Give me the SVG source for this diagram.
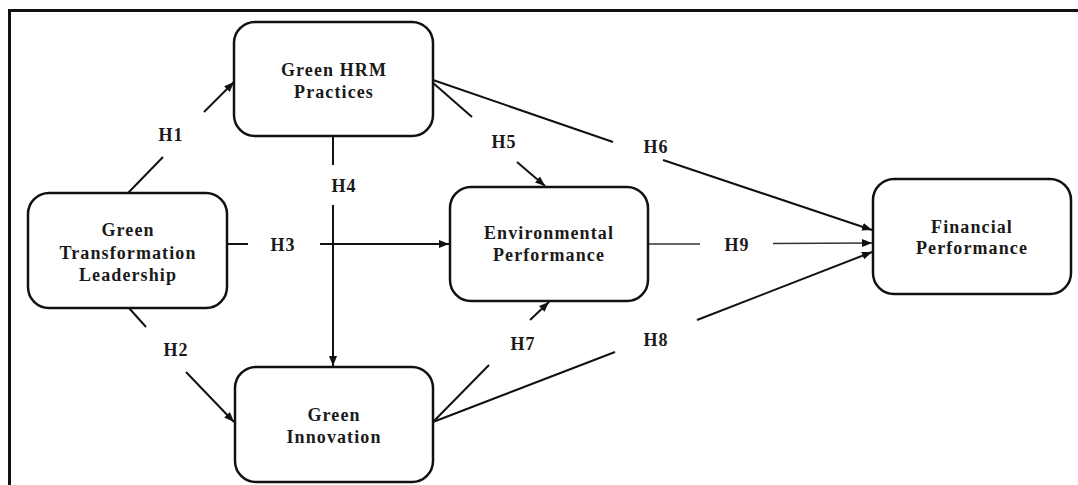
<svg xmlns="http://www.w3.org/2000/svg" width="1078" height="485" viewBox="0 0 1078 485">
<defs>
<style>
.box{fill:#fff;stroke:#111;stroke-width:2.5}
.t{font-family:"Liberation Serif","Times New Roman",serif;font-weight:bold;font-size:18px;letter-spacing:1.1px;fill:#1a1a1a;text-anchor:middle}
.c{stroke:#111;stroke-width:2;fill:none}
.thin{stroke:#333;stroke-width:1.3;fill:none}
</style>
<marker id="ah" markerUnits="userSpaceOnUse" markerWidth="11" markerHeight="8" refX="10" refY="4" orient="auto">
<path d="M0,0 L10,4 L0,8 z" fill="#111"/>
</marker>
</defs>
<rect width="1078" height="485" fill="#fff"/>
<path d="M9.5,485 L9.5,10.5 L1078,10.5" fill="none" stroke="#111" stroke-width="3"/>

<g id="connectors">
<line class="c" x1="128" y1="193" x2="163" y2="157"/>
<line class="c" x1="204" y1="112" x2="234" y2="82" marker-end="url(#ah)"/>
<line class="c" x1="129" y1="308" x2="146" y2="327"/>
<line class="c" x1="186" y1="372" x2="234" y2="422" marker-end="url(#ah)"/>
<line class="c" x1="227" y1="244" x2="248" y2="244"/>
<line class="c" x1="320" y1="244" x2="449" y2="244" marker-end="url(#ah)"/>
<line class="c" x1="333" y1="136" x2="333" y2="165"/>
<line class="c" x1="333" y1="205" x2="333" y2="366" marker-end="url(#ah)"/>
<line class="c" x1="432" y1="82" x2="472" y2="117"/>
<line class="c" x1="517" y1="162" x2="545" y2="186" marker-end="url(#ah)"/>
<line class="c" x1="433" y1="80" x2="613" y2="142"/>
<line class="c" x1="663" y1="160" x2="872" y2="230" marker-end="url(#ah)"/>
<line class="thin" x1="648" y1="244" x2="700" y2="244"/>
<line class="thin" x1="773" y1="243.5" x2="872" y2="243" marker-end="url(#ah)"/>
<line class="c" x1="433" y1="422" x2="615" y2="352"/>
<line class="c" x1="697" y1="320" x2="872" y2="252" marker-end="url(#ah)"/>
<line class="c" x1="433" y1="422" x2="489" y2="365"/>
<line class="c" x1="530" y1="320" x2="549" y2="302" marker-end="url(#ah)"/>
</g>

<g id="labels">
<text class="t" x="171" y="141">H1</text>
<text class="t" x="176" y="356">H2</text>
<text class="t" x="283" y="251">H3</text>
<text class="t" x="344" y="192">H4</text>
<text class="t" x="504" y="148">H5</text>
<text class="t" x="656" y="153">H6</text>
<text class="t" x="523" y="350">H7</text>
<text class="t" x="656" y="346">H8</text>
<text class="t" x="737" y="251">H9</text>
</g>

<g id="gtl">
<rect class="box" x="28" y="193" width="199" height="115" rx="21"/>
<text class="t" x="128" y="236">Green</text>
<text class="t" x="128" y="259">Transformation</text>
<text class="t" x="128" y="281">Leadership</text>
</g>
<g id="ghrm">
<rect class="box" x="234" y="22" width="199" height="114" rx="21"/>
<text class="t" x="334" y="76">Green HRM</text>
<text class="t" x="334" y="98">Practices</text>
</g>
<g id="ep">
<rect class="box" x="450" y="187" width="198" height="114" rx="21"/>
<text class="t" x="549" y="239">Environmental</text>
<text class="t" x="549" y="261">Performance</text>
</g>
<g id="gi">
<rect class="box" x="235" y="367" width="198" height="115" rx="21"/>
<text class="t" x="334" y="421">Green</text>
<text class="t" x="334" y="443">Innovation</text>
</g>
<g id="fp">
<rect class="box" x="873" y="179" width="198" height="115" rx="21"/>
<text class="t" x="972" y="233">Financial</text>
<text class="t" x="972" y="254">Performance</text>
</g>
</svg>
